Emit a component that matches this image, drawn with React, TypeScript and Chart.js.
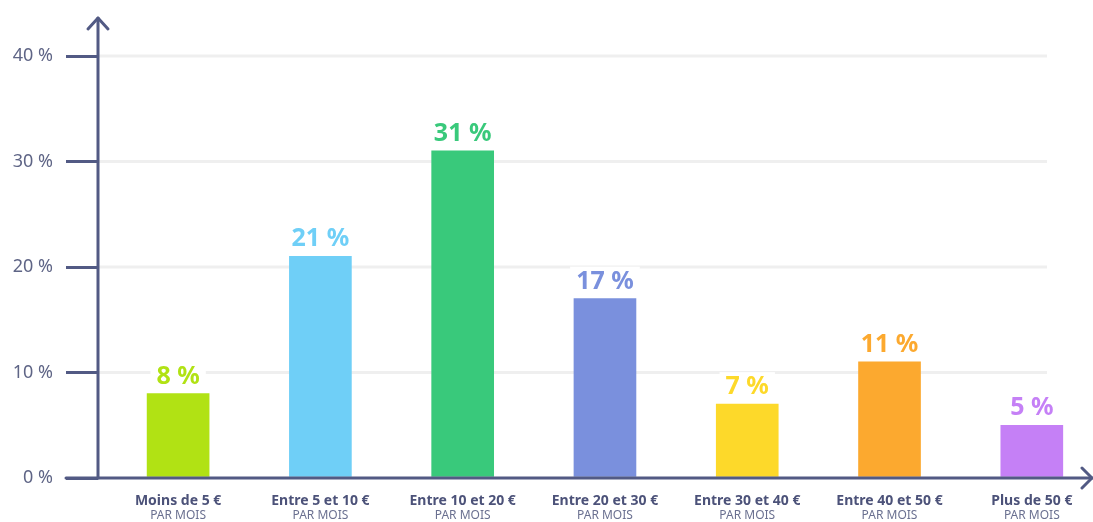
import React, { useEffect, useRef } from "react";
import { Chart, registerables } from "chart.js";

Chart.register(...registerables);

const categories = [
  "Moins de 5 €",
  "Entre 5 et 10 €",
  "Entre 10 et 20 €",
  "Entre 20 et 30 €",
  "Entre 30 et 40 €",
  "Entre 40 et 50 €",
  "Plus de 50 €",
];
const subLabel = "PAR MOIS";
const values = [8, 21, 31, 17, 7, 11, 5];
const barColors = ["#b1e214", "#6fcff7", "#39c97b", "#7a90dd", "#fdd92a", "#fca92f", "#c580f6"];
const yMin = 0;
const yMax = 40;
const yStep = 10;

const AXIS = "#525a84";
const GRID = "#efefef";
const TICK_TEXT = "#5f6586";
const CAT_TEXT = "#4c5279";
const SUB_TEXT = "#6a7090";

const customPlugin = {
  id: "customAxes",
  beforeDatasetsDraw(chart: any) {
    const { ctx, chartArea, scales } = chart;
    const y = scales.y;
    ctx.save();
    ctx.strokeStyle = GRID;
    ctx.lineWidth = 3;
    for (let v = yMin + yStep; v <= yMax; v += yStep) {
      const py = y.getPixelForValue(v);
      ctx.beginPath();
      ctx.moveTo(chartArea.left, py);
      ctx.lineTo(chartArea.right - 45, py);
      ctx.stroke();
    }
    ctx.restore();
  },
  afterDatasetsDraw(chart: any) {
    const { ctx, chartArea, scales } = chart;
    const x = scales.x;
    const y = scales.y;
    const meta = chart.getDatasetMeta(0);
    ctx.save();
    // value labels
    ctx.font = "bold 25px 'Noto Sans'";
    ctx.textAlign = "center";
    ctx.textBaseline = "alphabetic";
    meta.data.forEach((el: any, i: number) => {
      const txt = values[i] + " %";
      const w = ctx.measureText(txt).width;
      const by = el.y - 10;
      ctx.fillStyle = "#ffffff";
      ctx.fillRect(el.x - w / 2 - 6, by - 22, w + 12, 26);
      ctx.fillStyle = barColors[i];
      ctx.fillText(txt, el.x, by);
    });
    // axes
    const x0 = chartArea.left;
    const y0 = y.getPixelForValue(0);
    ctx.strokeStyle = AXIS;
    ctx.lineWidth = 3;
    ctx.lineCap = "round";
    ctx.lineJoin = "round";
    ctx.beginPath();
    ctx.moveTo(x0, y0);
    ctx.lineTo(x0, 18);
    ctx.stroke();
    ctx.beginPath();
    ctx.moveTo(x0 - 10, 29);
    ctx.lineTo(x0, 18);
    ctx.lineTo(x0 + 10, 29);
    ctx.stroke();
    ctx.beginPath();
    ctx.moveTo(x0 - 32, y0);
    ctx.lineTo(chartArea.right, y0);
    ctx.stroke();
    ctx.beginPath();
    ctx.moveTo(chartArea.right - 10, y0 - 10);
    ctx.lineTo(chartArea.right, y0);
    ctx.lineTo(chartArea.right - 10, y0 + 10);
    ctx.stroke();
    // category labels
    categories.forEach((c, i) => {
      const px = x.getPixelForValue(i);
      ctx.textAlign = "center";
      ctx.textBaseline = "middle";
      ctx.font = "bold 14px 'Noto Sans'";
      ctx.fillStyle = CAT_TEXT;
      ctx.fillText(c, px, 501);
      ctx.font = "12px 'Noto Sans'";
      ctx.fillStyle = SUB_TEXT;
      ctx.fillText(subLabel, px, 516);
    });
    ctx.restore();
  },
};

export default function App() {
  const ref = useRef<HTMLCanvasElement | null>(null);
  useEffect(() => {
    if (!ref.current) return;
    const chart = new Chart(ref.current, {
      type: "bar",
      data: {
        datasets: [
          {
            data: values.map((v, i) => ({ x: i, y: v })),
            backgroundColor: barColors,
            borderWidth: 0,
            barThickness: 62,
          },
        ],
      },
      options: {
        animation: false,
        responsive: true,
        maintainAspectRatio: false,
        layout: { padding: { left: 12, right: 1, top: 56, bottom: 44 } },
        plugins: { legend: { display: false }, tooltip: { enabled: false } },
        scales: {
          x: {
            type: "linear",
            offset: false,
            min: -0.563,
            max: 6.423,
            display: false,
          },
          y: {
            min: yMin,
            max: yMax,
            afterFit: (scale: any) => {
              scale.width = 86;
            },
            border: { display: false },
            grid: {
              drawOnChartArea: false,
              drawTicks: true,
              tickLength: 32,
              tickColor: AXIS,
              lineWidth: 3,
            },
            ticks: {
              stepSize: yStep,
              padding: 13,
              color: TICK_TEXT,
              font: { family: "'Noto Sans'", size: 18 },
              callback: (v: any) => v + " %",
            },
          },
        },
      },
      plugins: [customPlugin],
    });
    return () => chart.destroy();
  }, []);
  return (
    <div style={{ position: "fixed", left: 0, top: 0, width: 1093, height: 522, background: "#fff" }}>
      <canvas ref={ref} />
    </div>
  );
}
